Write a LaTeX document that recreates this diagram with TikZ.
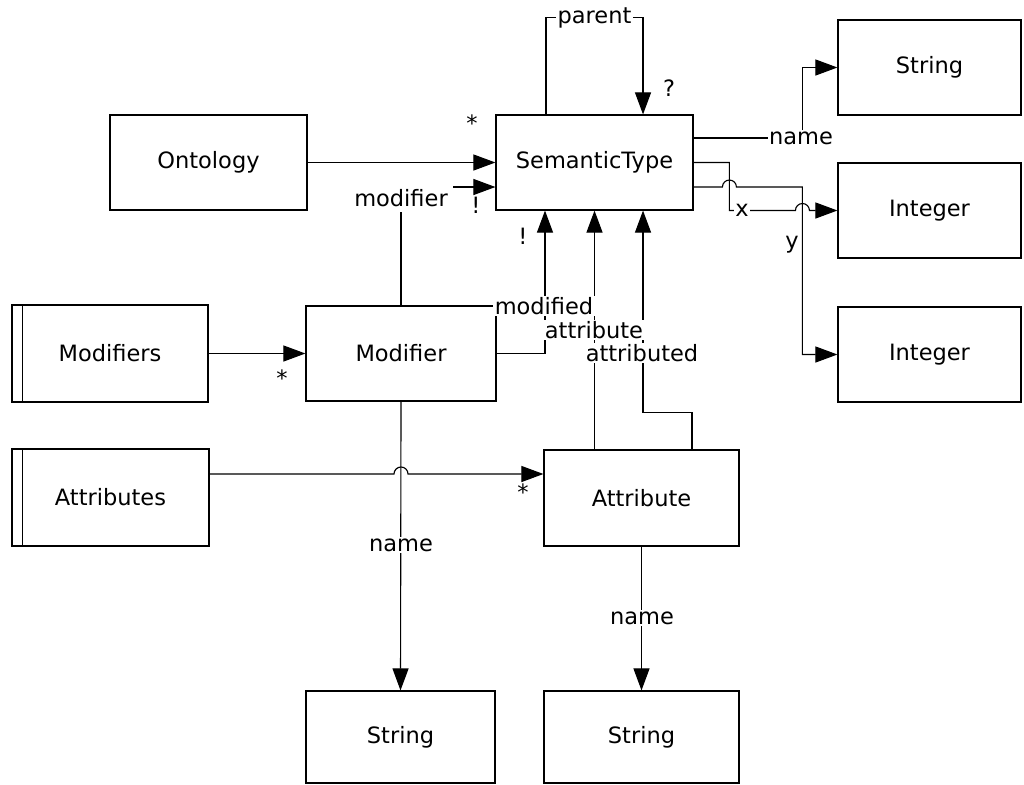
\documentclass[tikz,border=0pt]{standalone}
\usepackage{fontspec}
\setmainfont{DejaVu Sans}
\usetikzlibrary{arrows.meta}
\usetikzlibrary{calc}
\tikzset{box/.style={draw, line width=0.8pt, minimum width=#1, minimum height=2.375cm, inner sep=0pt},
  box/.default=4.925cm,
  role/.style={fill=white, inner sep=1pt},
  link/.style={line width=0.8pt, -{Triangle[length=0.55cm,width=0.4cm]}},
  wire/.style={line width=0.8pt}
}

\begin{document}
\begin{tikzpicture}[x=0.025cm, y=-0.025cm, font=\fontsize{16}{19}\selectfont]
                \useasboundingbox (0,0) rectangle (1024,784);

                % Boxes
                \node[box] (ont) at (208.5,162.5) {Ontology};
                \node[box] (st) at (594.5,162.5) {SemanticType};
                \node[box=4.575cm] (strA) at (929.5,67.5) {String};
                \node[box=4.575cm] (intA) at (929.5,210.5) {Integer};
                \node[box=4.575cm] (intB) at (929.5,354.5) {Integer};
                \node[box=4.9cm, minimum height=2.425cm] (mods) at (110,353.5) {Modifiers};
                \node[box=4.75cm] (mod) at (401,353.5) {Modifier};
                \node[box=4.925cm, minimum height=2.425cm] (atts) at (110.5,497.5) {Attributes};
                \node[box=4.875cm, minimum height=2.4cm] (att) at (641.5,498) {Attribute};
                \node[box=4.725cm, minimum height=2.3cm] (strB) at (400.5,737) {String};
                \node[box=4.875cm, minimum height=2.3cm] (strC) at (641.5,737) {String};

                % Collection bars
                \draw[wire] ([xshift=0.275cm]mods.north west) -- ([xshift=0.275cm]mods.south west);
                \draw[wire] ([xshift=0.275cm]atts.north west) -- ([xshift=0.275cm]atts.south west);

                % Links into SemanticType
                \draw[link] (ont.east) -- (st.west);
                \draw[link] (mod.north) |- ([yshift=-0.6125cm]st.west);
                \draw[link] ([xshift=-1.2125cm]st.north) -- ++(0,-97) -| ([xshift=1.2125cm]st.north);
                \draw[link] (mod.east) -| ([xshift=-1.2375cm]st.south);
                \draw[link] (st.south |- att.north) -- (st.south);
                \draw[link] ([xshift=1.2625cm]att.north) -- ++(0,-37) -| ([xshift=1.2125cm]st.south);

                % Collections
                \draw[link] (mods.east) -- (mod.west);
                \draw[link] ([yshift=0.5875cm]atts.east) coordinate (a0) -- ($(mod.south |- a0)+(-7,0)$) arc[start angle=180, end angle=0, radius=0.175cm] -- (att.west |- a0);

                % Names below
                \draw[link] (mod.south) -- (strB.north);
                \draw[link] (att.south) -- (strC.north);

                % Fields on the right
                \draw[link] ([yshift=0.6125cm]st.east) -| ($(strA.west)+(-35,0)$) -- (strA.west);
                \draw[link] (st.east) -| ($(intA.west)+(-108,0)$) -- ($(intA.west)+(-42,0)$) arc[start angle=180, end angle=0, radius=0.175cm] -- (intA.west);
                \draw[link] ([yshift=-0.6125cm]st.east) coordinate (y0) -- ($(intA.west |- y0)+(-115,0)$) arc[start angle=180, end angle=0, radius=0.175cm] -- ($(intA.west |- y0)+(-35,0)$) |- (intB.west);

                % Labels
                \node[role, inner sep=4pt] (lmodifier) at (401,198) {modifier};
                \node[role] (lparent) at (594.5,18) {parent};
                \node[role] (lmodified) at (544,306) {modified};
                \node[role] (lattribute) at (594,330) {attribute};
                \node[role] (lattributed) at (642,353) {attributed};
                \node[role] (lnameM) at (401,545) {name};
                \node[role] (lnameA) at (642,618) {name};
                \node[role] (lnameS) at (801,138) {name};
                \node[role] (lx) at (742,210) {x};
                \node (ly) at (792,245) {y};

                % Multiplicities
                \node (m1) at (472,123) {*};
                \node (m2) at (476,205) {!};
                \node (m3) at (523,236) {!};
                \node (m4) at (669,88) {?};
                \node (m5) at (282,378) {*};
                \node (m6) at (523,492) {*};
            \end{tikzpicture}
\end{document}
